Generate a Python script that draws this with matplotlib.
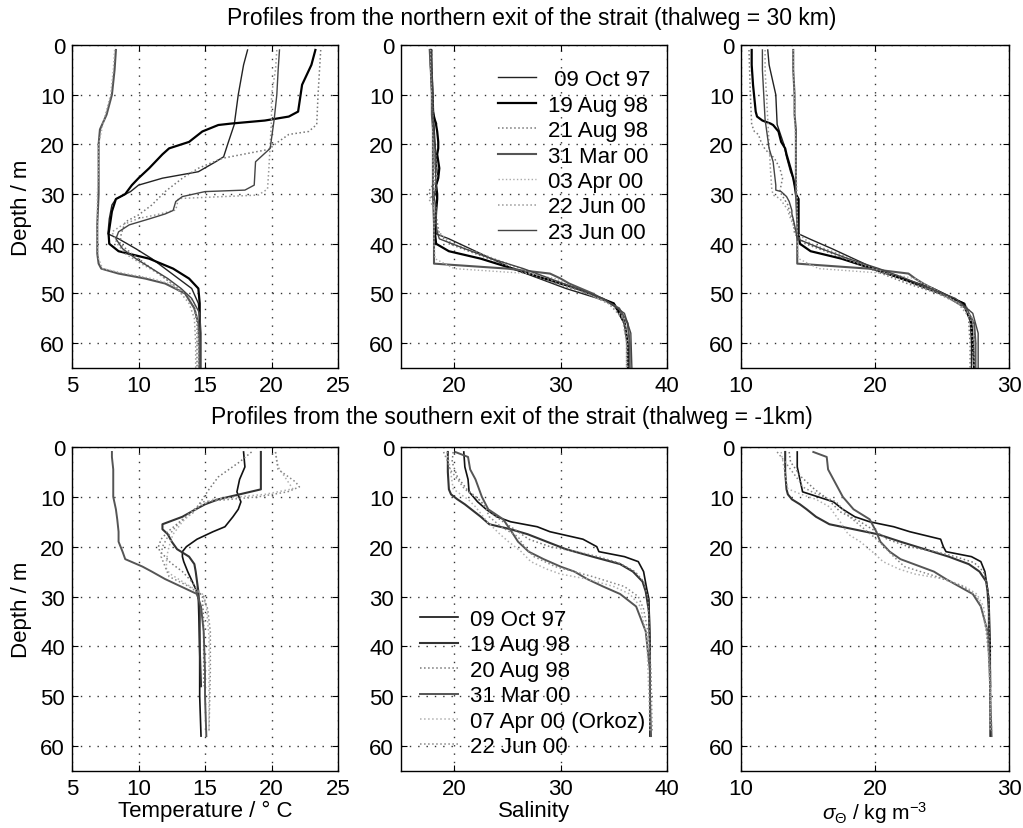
import numpy as np
import matplotlib.pyplot as plt

plt.rcParams['font.family'] = ['Liberation Sans', 'DejaVu Sans']
plt.rcParams['mathtext.fontset'] = 'custom'
plt.rcParams['mathtext.rm'] = 'Liberation Sans'
plt.rcParams['mathtext.it'] = 'Liberation Sans:italic'

# ---------------- northern exit (thalweg = 30 km) ----------------
# depth (m), temperature (C), salinity, sigma-theta (kg m-3)
z_n_oct97 = [1, 4, 10, 16, 20, 22.5, 23.5, 25.5, 26.8, 28.2, 29.5, 31, 32.2, 35, 38, 39, 41, 43, 45, 47, 49, 52, 55, 60, 65]
t_n_oct97 = [18.2, 17.9, 17.5, 17.2, 16.7, 16.4, 15.8, 14.5, 11.8, 10.0, 9.4, 8.3, 8.0, 7.8, 7.7, 8.5, 9.8, 11.0, 12.0, 13.0, 14.0, 14.5, 14.6, 14.6, 14.6]
s_n_oct97 = [17.8, 17.9, 18.0, 18.1, 18.2, 18.3, 18.3, 18.4, 18.5, 18.3, 18.2, 18.4, 18.3, 18.2, 18.3, 19.5, 21.5, 23.5, 25.5, 28.0, 30.5, 35.0, 36.0, 36.3, 36.3]
g_n_oct97 = [12.0, 12.1, 12.6, 12.7, 13.2, 13.4, 13.5, 13.7, 13.9, 14.0, 14.1, 14.2, 14.2, 14.2, 14.3, 15.1, 16.8, 18.4, 20.0, 21.9, 23.8, 26.7, 27.1, 27.2, 27.2]

z_n_aug19 = [1, 4, 8, 13.4, 14.4, 15.2, 15.8, 16.1, 17.4, 19.5, 20.8, 22, 24.8, 26.8, 28.2, 30, 31, 33.5, 38, 40, 41.5, 43, 45, 47, 49, 52, 56, 60, 65]
t_n_aug19 = [23.3, 23.0, 22.3, 22.0, 21.3, 19.5, 17.0, 16.0, 14.8, 13.8, 12.3, 11.8, 10.8, 10.0, 9.5, 9.0, 8.3, 8.0, 7.75, 7.8, 8.5, 10.8, 12.6, 13.8, 14.5, 14.6, 14.6, 14.6, 14.6]
s_n_aug19 = [17.8, 17.8, 17.9, 18.0, 18.1, 18.2, 18.3, 18.3, 18.4, 18.5, 18.5, 18.4, 18.6, 18.5, 18.3, 18.4, 18.4, 18.3, 18.2, 18.3, 19.5, 22.5, 25.5, 28.5, 31.5, 35.0, 36.0, 36.3, 36.4]
g_n_aug19 = [10.8, 10.8, 10.9, 11.1, 11.2, 11.6, 12.2, 12.4, 12.8, 13.0, 13.3, 13.4, 13.7, 13.9, 14.0, 14.1, 14.3, 14.3, 14.3, 14.4, 15.2, 17.5, 19.8, 22.0, 24.3, 26.6, 27.2, 27.3, 27.4]

z_n_aug21 = [1, 10, 16, 17.4, 18, 19.5, 21, 22.8, 24.8, 26.8, 29.5, 32.2, 34.2, 35.6, 38, 40, 42, 44, 46, 48, 50, 53, 56, 60, 65]
t_n_aug21 = [23.7, 23.5, 23.4, 22.8, 21.3, 20.5, 19.8, 16.3, 14.5, 13.3, 12.0, 11.0, 10.0, 9.0, 8.7, 8.6, 9.5, 10.5, 11.5, 12.5, 13.5, 14.2, 14.4, 14.4, 14.4]
s_n_aug21 = [17.8, 17.9, 18.0, 18.0, 18.1, 18.1, 18.2, 18.3, 18.3, 18.4, 17.6, 18.3, 18.3, 18.4, 18.6, 19.5, 22.0, 24.5, 27.0, 29.5, 32.5, 35.5, 36.0, 36.2, 36.2]
g_n_aug21 = [10.6, 10.7, 10.8, 11.0, 11.3, 11.5, 11.8, 12.5, 12.9, 13.1, 12.9, 13.5, 13.7, 13.9, 14.0, 14.8, 16.8, 18.7, 20.5, 22.4, 24.7, 27.0, 27.0, 27.1, 27.1]

z_n_mar31 = [1, 5, 10, 14, 17, 20, 25, 30, 36, 42, 44, 45, 46, 47, 48, 50, 53, 56, 60, 65]
t_n_mar31 = [8.3, 8.2, 8.0, 7.6, 7.1, 7.0, 7.0, 7.0, 6.9, 6.9, 7.0, 7.2, 8.5, 10.5, 12.0, 13.5, 14.2, 14.5, 14.6, 14.6]
s_n_mar31 = [17.7, 17.8, 17.9, 17.9, 18.0, 18.0, 18.0, 18.0, 18.1, 18.1, 18.1, 25.0, 29.0, 30.0, 30.8, 33.0, 35.5, 36.3, 36.5, 36.5]
g_n_mar31 = [13.9, 13.9, 14.0, 14.0, 14.1, 14.1, 14.1, 14.1, 14.2, 14.2, 14.2, 19.5, 22.5, 23.0, 23.6, 25.0, 26.8, 27.4, 27.5, 27.5]

z_n_apr03 = [1, 5, 10, 15, 20, 25, 30, 35, 40, 43, 45, 46, 47, 48, 50, 52, 55, 60, 65]
t_n_apr03 = [8.2, 8.1, 7.9, 7.4, 7.0, 7.0, 6.9, 6.9, 6.9, 7.0, 7.3, 9.0, 11.0, 12.3, 13.6, 14.2, 14.4, 14.5, 14.5]
s_n_apr03 = [17.8, 17.8, 17.9, 18.0, 18.0, 18.0, 18.1, 18.1, 18.1, 18.2, 20.0, 27.0, 29.5, 30.5, 32.5, 34.5, 36.0, 36.3, 36.3]
g_n_apr03 = [13.9, 13.9, 14.0, 14.0, 14.1, 14.1, 14.2, 14.2, 14.2, 14.3, 15.8, 21.0, 23.0, 23.6, 25.0, 26.3, 27.3, 27.4, 27.4]

z_n_jun22 = [1, 5, 10, 15, 20, 25, 29, 30.2, 30.9, 33.2, 34.2, 34.9, 36.2, 37.6, 40, 42, 44, 46, 48, 50, 52, 55, 60, 65]
t_n_jun22 = [20.4, 20.3, 20.0, 20.0, 19.9, 19.8, 19.7, 19.0, 13.0, 12.8, 11.3, 10.0, 8.8, 8.0, 8.4, 9.0, 10.2, 11.5, 12.5, 13.2, 13.8, 14.2, 14.3, 14.3]
s_n_jun22 = [17.9, 17.9, 18.0, 18.0, 18.1, 18.1, 18.2, 18.2, 17.6, 18.2, 18.3, 18.3, 18.3, 18.5, 19.8, 22.5, 25.0, 27.5, 30.0, 32.5, 34.5, 35.8, 36.2, 36.2]
g_n_jun22 = [11.8, 11.8, 11.9, 12.0, 12.1, 12.2, 12.3, 12.4, 12.9, 13.5, 13.6, 13.7, 13.9, 14.1, 15.2, 17.3, 19.0, 20.9, 22.8, 24.7, 26.2, 27.1, 27.3, 27.3]

z_n_jun23 = [1, 5, 10, 15, 20.8, 23.5, 28.2, 29.2, 29.5, 30.5, 31.5, 33.3, 34, 35, 36.2, 37.6, 39, 41, 43, 45, 47, 49, 51, 54, 58, 65]
t_n_jun23 = [20.6, 20.5, 20.4, 20.2, 19.9, 18.8, 18.7, 18.0, 15.0, 13.3, 12.8, 12.6, 12.0, 10.8, 9.3, 8.5, 8.3, 8.8, 9.8, 11.0, 12.2, 13.2, 14.0, 14.6, 14.7, 14.7]
s_n_jun23 = [17.9, 17.9, 18.0, 18.0, 18.2, 18.2, 18.3, 18.3, 18.2, 18.1, 18.2, 18.3, 18.3, 18.3, 18.3, 18.4, 18.6, 21.0, 23.5, 26.5, 29.0, 31.5, 34.0, 36.0, 36.6, 36.7]
g_n_jun23 = [11.6, 11.6, 11.7, 11.8, 12.1, 12.4, 12.6, 12.6, 13.0, 13.4, 13.6, 13.8, 13.8, 13.9, 14.0, 14.1, 14.2, 16.0, 18.0, 20.3, 22.3, 24.1, 26.0, 27.3, 27.7, 27.7]

north_labels = [' 09 Oct 97', '19 Aug 98', '21 Aug 98', '31 Mar 00', '03 Apr 00', '22 Jun 00', '23 Jun 00']

# ---------------- southern exit (thalweg = -1 km) ----------------
z_s_oct97 = [1, 4, 6.5, 9, 11, 12.5, 14, 15, 16, 17, 18.5, 20, 21, 22, 23, 25, 28.5, 30.5, 40, 50, 58]
t_s_oct97 = [17.9, 18.0, 17.6, 17.4, 17.7, 17.5, 17.1, 16.8, 16.5, 15.6, 14.4, 13.6, 13.3, 13.3, 13.4, 13.7, 14.3, 14.5, 14.6, 14.6, 14.7]
s_s_oct97 = [20.9, 21.0, 21.3, 21.4, 22.2, 23.0, 24.0, 25.3, 27.8, 29.0, 32.1, 33.4, 33.6, 36.0, 37.3, 37.8, 38.1, 38.3, 38.4, 38.4, 38.4]
g_s_oct97 = [14.2, 14.2, 14.4, 14.6, 16.9, 17.6, 18.5, 19.6, 21.4, 22.6, 24.9, 25.1, 25.3, 27.2, 27.9, 28.2, 28.4, 28.5, 28.6, 28.6, 28.6]

z_s_aug19 = [1, 5, 8.5, 9.5, 10.5, 11.5, 12.5, 14, 15.5, 16.5, 17.5, 19, 20.5, 22, 23.5, 25, 27, 29, 33, 40, 48]
t_s_aug19 = [19.2, 19.2, 19.2, 17.6, 16.0, 15.0, 14.3, 13.3, 11.8, 11.8, 12.2, 12.5, 12.9, 13.8, 14.2, 14.3, 14.4, 14.5, 14.6, 14.6, 14.7]
s_s_aug19 = [19.4, 19.4, 19.5, 19.7, 20.3, 21.0, 21.6, 22.5, 23.3, 25.3, 26.9, 28.7, 30.5, 33.0, 35.6, 36.8, 37.7, 38.0, 38.3, 38.4, 38.4]
g_s_aug19 = [13.3, 13.3, 13.4, 13.5, 13.8, 14.4, 14.9, 15.6, 16.6, 18.4, 20.2, 21.9, 23.7, 25.5, 27.0, 27.8, 28.3, 28.4, 28.5, 28.5, 28.6]

z_s_aug20 = [1, 3, 6, 8.5, 10.5, 13, 15, 17, 18.5, 20, 21, 22, 23.2, 25, 27, 30, 35, 40, 48]
t_s_aug20 = [18.5, 17.6, 16.0, 15.3, 14.8, 14.2, 13.1, 12.2, 11.7, 11.5, 11.6, 12.0, 12.4, 13.3, 14.0, 14.8, 14.9, 14.9, 14.9]
s_s_aug20 = [19.9, 19.8, 20.3, 21.2, 22.3, 23.3, 24.6, 26.0, 27.0, 29.0, 31.5, 33.5, 35.4, 37.0, 37.8, 38.2, 38.3, 38.4, 38.4]
g_s_aug20 = [13.6, 13.7, 14.5, 15.5, 16.5, 17.4, 18.9, 20.1, 20.9, 22.5, 24.5, 26.0, 27.4, 28.1, 28.3, 28.5, 28.5, 28.6, 28.6]

z_s_mar31 = [1, 2, 4.5, 6.5, 10, 12.5, 14.5, 17, 19, 21, 22.5, 24, 25, 26.5, 28, 29.5, 32, 37, 45, 50, 58]
t_s_mar31 = [8.0, 8.0, 8.1, 8.1, 8.1, 8.3, 8.4, 8.5, 8.5, 8.8, 9.0, 10.3, 11.0, 12.0, 13.2, 14.4, 14.7, 14.9, 15.0, 15.0, 15.1]
s_s_mar31 = [20.1, 21.3, 21.5, 22.0, 22.6, 23.2, 24.6, 25.4, 26.0, 27.0, 28.4, 30.0, 31.3, 32.5, 34.0, 35.6, 37.1, 38.0, 38.4, 38.4, 38.5]
g_s_mar31 = [15.4, 16.4, 16.5, 16.9, 17.6, 18.4, 19.6, 20.1, 20.4, 21.1, 21.9, 23.4, 24.4, 25.3, 26.3, 27.3, 27.9, 28.4, 28.6, 28.6, 28.7]

z_s_apr07 = [1, 4, 8.4, 9.5, 10.5, 12, 15, 17.5, 19, 21, 23, 24.5, 25.5, 26.5, 28, 29.5, 32, 38, 50, 57]
t_s_apr07 = [20.3, 20.5, 21.6, 19.5, 15.6, 14.5, 13.3, 12.6, 12.4, 12.2, 12.1, 12.1, 12.4, 13.0, 13.9, 14.8, 15.1, 15.3, 15.3, 15.3]
s_s_apr07 = [19.3, 19.6, 19.9, 20.6, 21.3, 22.0, 23.1, 24.3, 25.1, 26.3, 27.2, 28.7, 30.0, 32.5, 35.0, 36.5, 37.5, 38.1, 38.3, 38.4]
g_s_apr07 = [13.0, 13.2, 13.5, 14.5, 15.6, 16.6, 17.4, 18.0, 18.9, 19.8, 20.6, 21.8, 23.0, 25.2, 26.7, 27.6, 28.1, 28.4, 28.6, 28.6]

z_s_jun22 = [1, 3, 4.5, 7, 8, 9, 10, 11, 12.5, 14, 16, 18, 20, 22, 24, 26, 28, 30, 32.5, 37, 45, 57]
t_s_jun22 = [20.3, 20.4, 20.5, 21.8, 22.1, 21.2, 19.0, 14.8, 14.2, 13.5, 12.8, 12.2, 11.8, 11.7, 12.0, 12.3, 13.8, 14.9, 15.2, 15.4, 15.4, 15.3]
s_s_jun22 = [19.0, 19.4, 19.6, 20.5, 20.8, 21.3, 22.0, 22.6, 23.0, 23.3, 24.4, 26.0, 26.6, 27.5, 29.5, 33.0, 36.0, 37.3, 37.8, 38.2, 38.5, 38.6]
g_s_jun22 = [12.7, 13.3, 13.7, 14.4, 14.6, 15.3, 16.2, 17.1, 17.6, 18.1, 19.0, 19.9, 20.7, 21.4, 22.2, 24.6, 26.6, 27.6, 28.0, 28.3, 28.6, 28.7]

south_labels = ['09 Oct 97', '19 Aug 98', '20 Aug 98', '31 Mar 00', '07 Apr 00 (Orkoz)', '22 Jun 00']

# grey-scale line styles (colour, linestyle, width)
north_styles = [('#222222', '-', 1.0), ('black', '-', 1.6), ('#777777', ':', 1.1),
                ('#555555', '-', 1.5), ('#aaaaaa', ':', 1.0), ('#999999', ':', 1.1),
                ('#444444', '-', 1.0)]
south_styles = [('#111111', '-', 1.2), ('#333333', '-', 1.5), ('#777777', ':', 1.1),
                ('#555555', '-', 1.4), ('#b0b0b0', ':', 1.1), ('#888888', ':', 1.1)]

north = [(z_n_oct97, t_n_oct97, s_n_oct97, g_n_oct97),
         (z_n_aug19, t_n_aug19, s_n_aug19, g_n_aug19),
         (z_n_aug21, t_n_aug21, s_n_aug21, g_n_aug21),
         (z_n_mar31, t_n_mar31, s_n_mar31, g_n_mar31),
         (z_n_apr03, t_n_apr03, s_n_apr03, g_n_apr03),
         (z_n_jun22, t_n_jun22, s_n_jun22, g_n_jun22),
         (z_n_jun23, t_n_jun23, s_n_jun23, g_n_jun23)]
south = [(z_s_oct97, t_s_oct97, s_s_oct97, g_s_oct97),
         (z_s_aug19, t_s_aug19, s_s_aug19, g_s_aug19),
         (z_s_aug20, t_s_aug20, s_s_aug20, g_s_aug20),
         (z_s_mar31, t_s_mar31, s_s_mar31, g_s_mar31),
         (z_s_apr07, t_s_apr07, s_s_apr07, g_s_apr07),
         (z_s_jun22, t_s_jun22, s_s_jun22, g_s_jun22)]

xlims = [(5, 25), (15, 40), (10, 30)]
xticks = [[5, 10, 15, 20, 25], [20, 30, 40], [10, 20, 30]]
xlabels = ['Temperature / \u00b0 C', 'Salinity', r'$\sigma_{\Theta}$ / kg m$^{-3}$']
xlabelpads = [1, 1, 0]
xlabelsizes = [16, 16, 15]

fs = 16
fig = plt.figure(figsize=(10.23, 8.29), dpi=100)
lefts = [0.0704, 0.392, 0.7243]
widths = [0.26, 0.26, 0.262]
bottoms = [0.5549, 0.0688]
heights = [0.3896, 0.3908]

for row, (profiles, styles, labels) in enumerate([(north, north_styles, north_labels),
                                                  (south, south_styles, south_labels)]):
    for col in range(3):
        ax = fig.add_axes([lefts[col], bottoms[row], widths[col], heights[row]])
        for prof, (c, ls, lw), lab in zip(profiles, styles, labels):
            ax.plot(prof[col + 1], prof[0], color=c, linestyle=ls, linewidth=lw, label=lab)
        ax.set_xlim(*xlims[col])
        ax.set_ylim(65, 0)
        ax.set_xticks(xticks[col])
        ax.set_yticks([0, 10, 20, 30, 40, 50, 60])
        ax.grid(True, color='#333333', linestyle=(0, (1, 5)), linewidth=1.0)
        ax.tick_params(direction='in', labelsize=fs, length=4, top=True, right=True, pad=5)
        for sp in ax.spines.values():
            sp.set_linewidth(1.0)
        if col == 0:
            ax.set_ylabel('Depth / m', fontsize=fs, labelpad=6)
        if row == 1:
            ax.set_xlabel(xlabels[col], fontsize=xlabelsizes[col], labelpad=xlabelpads[col])
        if col == 1:
            if row == 0:
                anchor = (0.365, 0.925)
            else:
                anchor = (0.071, 0.50)
            ax.legend(loc='upper left', bbox_to_anchor=anchor, frameon=False,
                      fontsize=fs, borderpad=0, borderaxespad=0, labelspacing=0.2,
                      handlelength=1.7, handletextpad=0.55)

fig.text(532 / 1023, 1 - 18 / 829, 'Profiles from the northern exit of the strait (thalweg = 30 km)',
         ha='center', va='center', fontsize=16.5)
fig.text(512 / 1023, 1 - 418 / 829, 'Profiles from the southern exit of the strait (thalweg = -1km)',
         ha='center', va='center', fontsize=16.5)

fig.savefig('out.png', dpi=100)
